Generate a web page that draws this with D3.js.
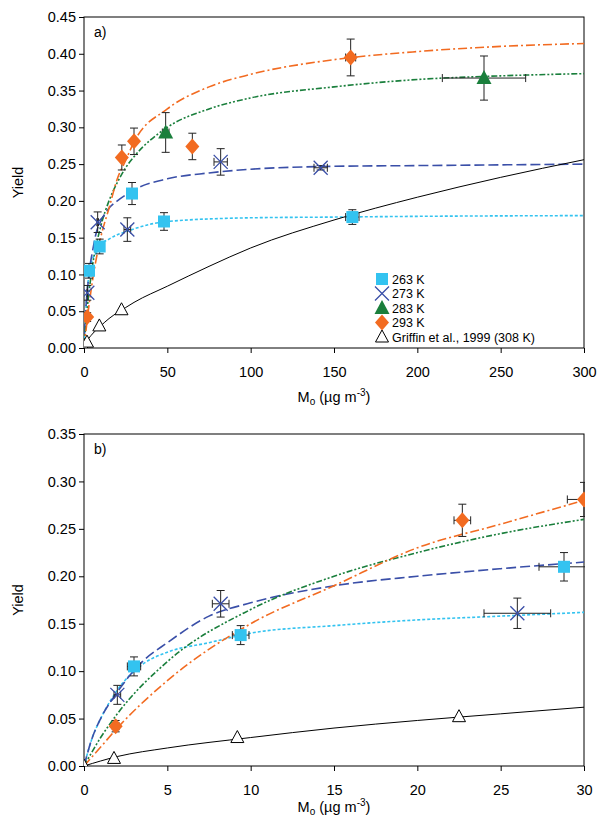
<!DOCTYPE html>
<html><head><meta charset="utf-8">
<script src="https://cdn.jsdelivr.net/npm/d3@7"></script>
<style>body{margin:0;background:#fff}text{font-family:Arial,"Liberation Sans",sans-serif}</style>
</head><body><svg id="c" width="601" height="821"></svg>
<script>
// ---- data ----
const seriesNames = ["263 K","273 K","283 K","293 K","Griffin et al., 1999 (308 K)"];
const pts263 = [[3,0.105,0.01,0.4],[9.4,0.138,0.01,0.5],[28.8,0.21,0.015,1.5],[48,0.172,0.012,1.5],[161,0.178,0.01,4]];
const pts273 = [[2,0.075,0.01,0.2],[8.2,0.171,0.014,0.5],[26,0.161,0.016,2],[82,0.253,0.018,4],[142,0.245,0.003,4]];
const pts283 = [[49,0.293,0.027,2],[240,0.367,0.03,25]];
const pts293 = [[1.9,0.042,0.006,0.2],[22.7,0.259,0.017,0.5],[30,0.281,0.018,1],[65,0.274,0.018,1.5],[160,0.395,0.025,3]];
const ptsGriffin = [[0,0],[1.8,0.008],[9.2,0.03],[22.5,0.052]];
const curve263 = [[0,0],[0.5,0.03],[1,0.05],[2,0.08],[3.5,0.107],[5,0.12],[7.5,0.13],[10,0.14],[15,0.148],[20,0.154],[25,0.158],[30,0.162],[50,0.172],[100,0.177],[150,0.178],[200,0.179],[300,0.18]];
const curve273 = [[0,0],[0.5,0.03],[1,0.05],[2,0.078],[3.5,0.11],[5,0.13],[7.5,0.158],[10,0.172],[15,0.19],[20,0.2],[25,0.208],[30,0.215],[50,0.23],[75,0.238],[100,0.243],[150,0.247],[200,0.248],[300,0.25]];
const curve283 = [[0,0],[1,0.03],[2,0.055],[5,0.11],[10,0.165],[15,0.2],[20,0.225],[25,0.245],[30,0.26],[50,0.3],[75,0.325],[100,0.34],[150,0.355],[200,0.365],[250,0.37],[300,0.373]];
const curve293 = [[0,0],[1,0.02],[2,0.04],[5,0.09],[10,0.15],[15,0.19],[20,0.23],[25,0.255],[30,0.28],[50,0.325],[75,0.355],[100,0.372],[150,0.392],[200,0.403],[250,0.41],[300,0.414]];
const curveGriffin = [[0,0],[2,0.01],[5,0.019],[10,0.03],[15,0.04],[20,0.048],[25,0.055],[30,0.062],[50,0.084],[75,0.111],[100,0.136],[150,0.174],[200,0.205],[250,0.232],[300,0.256]];
const ticksA_x = [0,50,100,150,200,250,300];
const ticksA_y = [0,0.05,0.1,0.15,0.2,0.25,0.3,0.35,0.4,0.45];
const ticksB_x = [0,5,10,15,20,25,30];
const ticksB_y = [0,0.05,0.1,0.15,0.2,0.25,0.3,0.35];

const colors = ["#33c3f0","#3a4fa8","#1a7f3c","#f26b21","#000"];
const dashes = ["3,2","10,4","6,2,2,2,2,2","9,3,2,3",null];
const shapes = ["square","x","triangle","diamond","tri-open"];
const allPts = [pts263,pts273,pts283,pts293,ptsGriffin];
const allCurves = [curve263,curve273,curve283,curve293,curveGriffin];

const svg = d3.select("#c");
function marker(g,shape,color,x,y){
  if(shape==="square") g.append("rect").attr("x",x-6).attr("y",y-6).attr("width",12).attr("height",12).attr("fill",color);
  else if(shape==="diamond") g.append("path").attr("d",`M${x},${y-8}L${x+7},${y}L${x},${y+8}L${x-7},${y}Z`).attr("fill",color);
  else if(shape==="triangle") g.append("path").attr("d",`M${x},${y-8}L${x+7.5},${y+6}L${x-7.5},${y+6}Z`).attr("fill",color);
  else if(shape==="tri-open") g.append("path").attr("d",`M${x},${y-7}L${x+6.5},${y+5}L${x-6.5},${y+5}Z`).attr("fill","#fff").attr("stroke","#000").attr("stroke-width",1);
  else if(shape==="x") g.append("path").attr("d",`M${x-7},${y-7}L${x+7},${y+7}M${x-7},${y+7}L${x+7},${y-7}`).attr("stroke",color).attr("stroke-width",1.3);
}
function panel(top,bottom,xmax,ymax,tx,ty,label,xlabY,id){
  const L=84,R=584;
  const x=d3.scaleLinear().domain([0,xmax]).range([L,R]);
  const y=d3.scaleLinear().domain([0,ymax]).range([bottom,top]);
  const g=svg.append("g");
  g.append("clipPath").attr("id",id).append("rect").attr("x",L).attr("y",top).attr("width",R-L+1).attr("height",bottom-top);
  g.append("rect").attr("x",L).attr("y",top).attr("width",R-L).attr("height",bottom-top).attr("fill","none").attr("stroke","#000").attr("stroke-width",1);
  const ax=g.append("g").attr("transform",`translate(0,${bottom})`).call(d3.axisBottom(x).tickValues(tx).tickSize(5).tickFormat(d3.format("d")));
  const ay=g.append("g").attr("transform",`translate(${L},0)`).call(d3.axisLeft(y).tickValues(ty).tickSize(5).tickFormat(d3.format(".2f")));
  [ax,ay].forEach(a=>{a.select(".domain").remove();a.selectAll("text").attr("font-size",14.5).attr("fill","#000").style("font-family","Arial");});
  ax.selectAll("text").attr("dy","1.45em");
  const pg=g.append("g").attr("clip-path",`url(#${id})`);
  const line=d3.line().x(d=>x(d[0])).y(d=>y(d[1])).curve(d3.curveMonotoneX);
  allCurves.forEach((c,i)=>{
    pg.append("path").attr("d",line(c.filter(d=>d[0]<=xmax*1.05))).attr("fill","none").attr("stroke",colors[i]).attr("stroke-width",i===4?1:1.6).attr("stroke-dasharray",dashes[i]);
  });
  allPts.forEach((ps,i)=>{
    ps.forEach(p=>{
      if(p[0]>xmax*1.02) return;
      const cx=x(p[0]),cy=y(p[1]);
      if(p[2]){
        const eg=pg.append("g").attr("stroke","#222").attr("stroke-width",1);
        eg.append("line").attr("x1",cx).attr("x2",cx).attr("y1",y(p[1]-p[2])).attr("y2",y(p[1]+p[2]));
        [p[1]-p[2],p[1]+p[2]].forEach(v=>eg.append("line").attr("x1",cx-4).attr("x2",cx+4).attr("y1",y(v)).attr("y2",y(v)));
        const x0=x(p[0]-p[3]),x1=x(p[0]+p[3]);
        eg.append("line").attr("x1",x0).attr("x2",x1).attr("y1",cy).attr("y2",cy);
        [x0,x1].forEach(v=>eg.append("line").attr("x1",v).attr("x2",v).attr("y1",cy-4).attr("y2",cy+4));
      }
      marker(pg,shapes[i],colors[i],cx,cy);
    });
  });
  g.append("text").attr("x",L+10).attr("y",top+20).attr("font-size",14).text(label);
  const xt=g.append("text").attr("x",(L+R)/2).attr("y",xlabY).attr("text-anchor","middle").attr("font-size",14.5);
  xt.append("tspan").text("M");xt.append("tspan").attr("font-size",10).attr("dy",3).text("o");
  xt.append("tspan").attr("dy",-3).text(" (µg m");xt.append("tspan").attr("font-size",10).attr("dy",-6).text("-3");
  xt.append("tspan").attr("dy",6).text(")");
  g.append("text").attr("transform",`translate(23,${(top+bottom)/2}) rotate(-90)`).attr("text-anchor","middle").attr("font-size",14.5).text("Yield");
  return {g,x,y};
}
const A=panel(17,348,300,0.45,ticksA_x,ticksA_y,"a)",402,"ca");
panel(434,766,30,0.35,ticksB_x,ticksB_y,"b)",812,"cb");
// legend
seriesNames.forEach((n,i)=>{
  const yy=279+i*14.5;
  marker(A.g,shapes[i],colors[i],382,yy);
  A.g.append("text").attr("x",392).attr("y",yy+4.5).attr("font-size",12.5).text(n);
});
</script></body></html>
